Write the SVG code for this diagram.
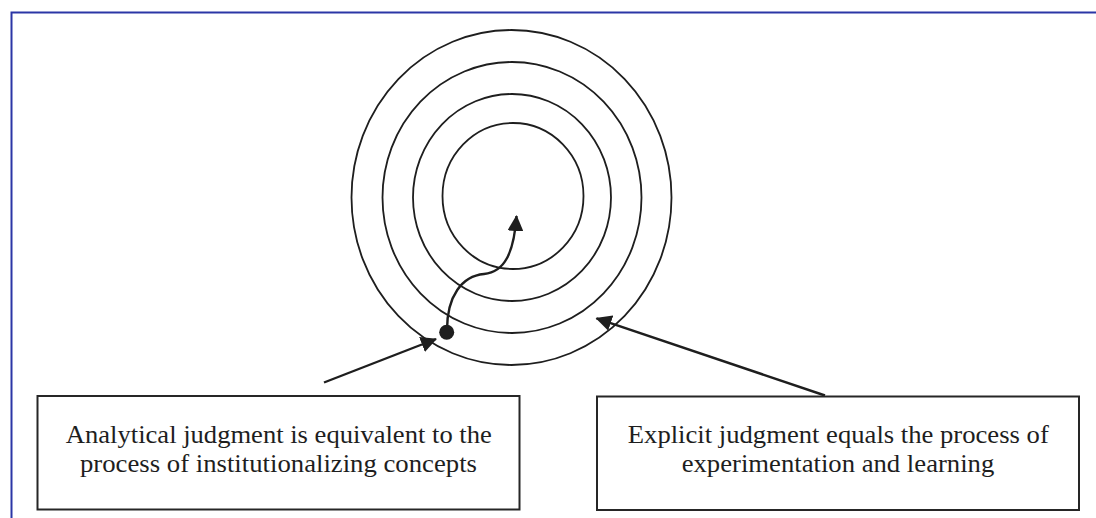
<svg xmlns="http://www.w3.org/2000/svg" width="1096" height="518" viewBox="0 0 1096 518">
  <style>
    .frame { fill: none; stroke: #2b36a6; stroke-width: 2; }
    .ring { fill: none; stroke: #1e1e1e; stroke-width: 1.8; }
    .box { fill: #ffffff; stroke: #262626; stroke-width: 2; }
    .conn { fill: none; stroke: #1e1e1e; stroke-width: 2.4; }
    .label { font-family: "Liberation Serif", "Times New Roman", serif; font-size: 26px; fill: #1e1e1e; text-anchor: middle; }
  </style>
  <defs>
    <marker id="arrow" viewBox="0 0 16 16" refX="15" refY="8" markerWidth="16" markerHeight="16" markerUnits="userSpaceOnUse" orient="auto">
      <path d="M0,0 L16,8 L0,16 z" fill="#1e1e1e"/>
    </marker>
  </defs>
  <rect width="1096" height="518" fill="#ffffff"/>
  <!-- page frame -->
  <path class="frame" d="M11.5,518 V12.5 H1096"/>

  <!-- concentric rings -->
  <g id="rings">
    <ellipse class="ring" cx="511.5" cy="197.5" rx="160" ry="167.5"/>
    <ellipse class="ring" cx="512" cy="197.5" rx="129.5" ry="135.5"/>
    <ellipse class="ring" cx="512" cy="197.5" rx="99" ry="103.5"/>
    <ellipse class="ring" cx="513" cy="196" rx="70.5" ry="73"/>
  </g>

  <!-- connectors -->
  <g id="connectors">
    <path class="conn" d="M447,330 C447,296 462,276 484,274 C505,272 514,252 516.5,216" marker-end="url(#arrow)"/>
    <circle cx="446.7" cy="332.3" r="7.5" fill="#1e1e1e"/>
    <line class="conn" x1="324" y1="382.5" x2="436" y2="339" marker-end="url(#arrow)"/>
    <line class="conn" x1="825" y1="395.5" x2="596.5" y2="318.3" marker-end="url(#arrow)"/>
  </g>

  <g id="analytical">
    <rect class="box" x="37.5" y="396" width="482" height="113.5"/>
    <text class="label" x="278.8" y="443" textLength="426" lengthAdjust="spacingAndGlyphs">Analytical judgment is equivalent to the</text>
    <text class="label" x="278.5" y="472" textLength="397" lengthAdjust="spacingAndGlyphs">process of institutionalizing concepts</text>
  </g>

  <g id="explicit">
    <rect class="box" x="597" y="396.5" width="482" height="113.5"/>
    <text class="label" x="838.3" y="443" textLength="421" lengthAdjust="spacingAndGlyphs">Explicit judgment equals the process of</text>
    <text class="label" x="838" y="472" textLength="312.6" lengthAdjust="spacingAndGlyphs">experimentation and learning</text>
  </g>
</svg>
